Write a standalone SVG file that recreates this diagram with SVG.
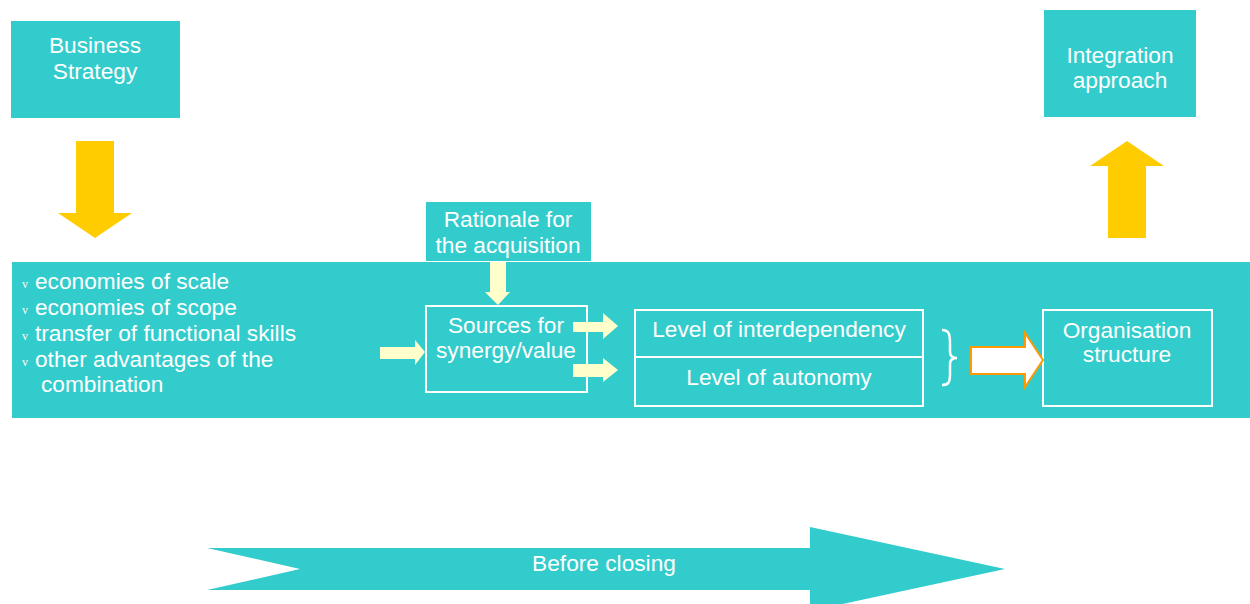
<svg xmlns="http://www.w3.org/2000/svg" width="1250" height="604" viewBox="0 0 1250 604">
<style>
.teal{fill:#33CCCC}
.box{fill:none;stroke:#FFFFFF;stroke-width:2}
.t{font-family:"Liberation Sans",Arial,sans-serif;font-size:22.7px;fill:#FFFFFF}
.c{text-anchor:middle}
.bul{font-family:"Liberation Serif",serif;font-size:12px;fill:#FFFFFF}
.ya{fill:#FFCC00}
.la{fill:#FFFFCC}
</style>
<rect width="1250" height="604" fill="#FFFFFF"/>
<g id="band">
<rect class="teal" x="12" y="262" width="1238" height="156"/>
</g>
<g id="business-strategy">
<rect class="teal" x="11" y="21" width="169" height="97"/>
<text class="t c" x="95" y="53">Business</text>
<text class="t c" x="95" y="79">Strategy</text>
</g>
<g id="integration-approach">
<rect class="teal" x="1044" y="10" width="152" height="107"/>
<text class="t c" x="1120" y="63">Integration</text>
<text class="t c" x="1120" y="88">approach</text>
</g>
<g id="rationale">
<rect class="teal" x="426" y="202" width="165" height="59"/>
<text class="t c" x="508" y="227">Rationale for</text>
<text class="t c" x="508" y="253">the acquisition</text>
</g>
<g id="bullets">
<text class="bul" x="22" y="288">v</text>
<text class="t" x="35" y="289">economies of scale</text>
<text class="bul" x="22" y="314">v</text>
<text class="t" x="35" y="315">economies of scope</text>
<text class="bul" x="22" y="340">v</text>
<text class="t" x="35" y="341">transfer of functional skills</text>
<text class="bul" x="22" y="366">v</text>
<text class="t" x="35" y="367">other advantages of the</text>
<text class="t" x="41" y="392">combination</text>
</g>
<g id="sources">
<rect class="box" x="426" y="306" width="161" height="86"/>
<text class="t c" x="506" y="333">Sources for</text>
<text class="t c" x="506" y="358">synergy/value</text>
</g>
<g id="levels">
<rect class="box" x="635" y="310" width="288" height="96"/>
<line x1="635" y1="357" x2="923" y2="357" stroke="#FFFFFF" stroke-width="2"/>
<text class="t c" x="779" y="337">Level of interdependency</text>
<text class="t c" x="779" y="385">Level of autonomy</text>
</g>
<g id="organisation">
<rect class="box" x="1043" y="310" width="169" height="96"/>
<text class="t c" x="1127" y="338">Organisation</text>
<text class="t c" x="1127" y="362">structure</text>
</g>
<g id="before-closing">
<polygon class="teal" points="207,548 810,548 810,527 1005,569 810,611 810,590 207,590 300,569"/>
<text class="t c" x="604" y="571">Before closing</text>
</g>
<g id="connectors">
<polygon class="ya" points="76,141 114,141 114,213 132,213 95,238 58,213 76,213"/>
<polygon class="ya" points="1108,238 1146,238 1146,166 1164,166 1127,141 1090,166 1108,166"/>
<polygon class="la" points="490,262 506,262 506,292 510,292 498,305 485,292 490,292"/>
<polygon class="la" points="380,347 415,347 415,340 425,352 415,365 415,359 380,359"/>
<polygon class="la" points="573,322 603,322 603,313 618,326 603,339 603,332 573,332"/>
<polygon class="la" points="573,364 603,364 603,358 618,370 603,382 603,377 573,377"/>
<path d="M942,330 C949,330 950,334 950,344 L950,352 C950,356 953,358 957,358 C953,358 950,360 950,364 L950,374 C950,383 948,385 942,385" fill="none" stroke="#FFFFFF" stroke-width="2.5"/>
<polygon points="971,347 1025,347 1025,333 1043,360 1025,387 1025,374 971,374" fill="#FFFFFF" stroke="#FF9900" stroke-width="2"/>
</g>
</svg>
